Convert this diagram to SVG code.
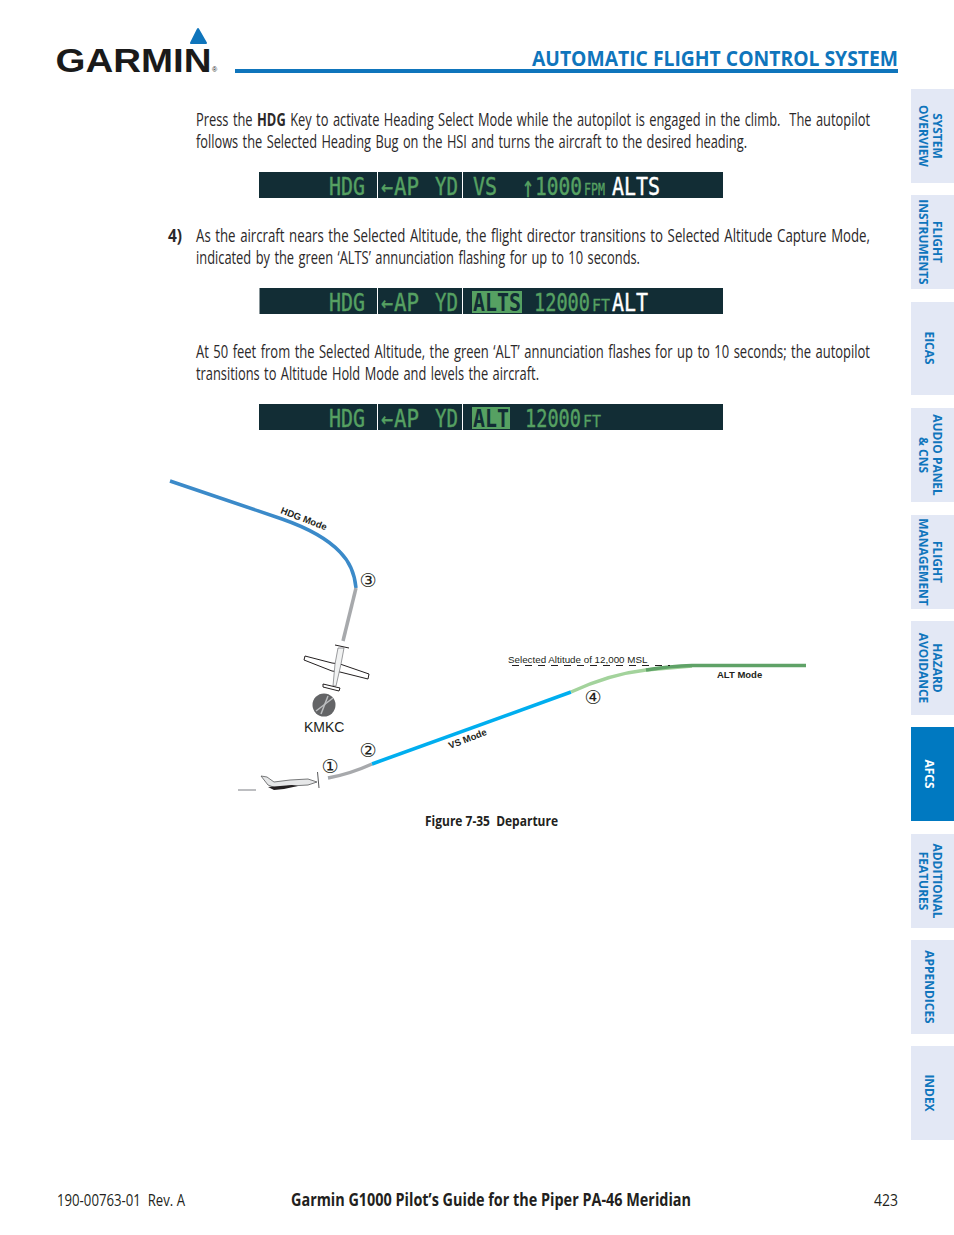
<svg xmlns="http://www.w3.org/2000/svg" width="954" height="1235" viewBox="0 0 954 1235">
<style>
text{font-family:"Open Sans","Liberation Sans",sans-serif}
.b{font-size:17.500px;fill:#2b2829;word-spacing:1.500px}
.bold{font-weight:700}
.tab{fill:#e3e8f5}
.tl{font-size:13px;font-weight:700;fill:#0f75bc;text-anchor:middle}
.bar{fill:#122d35}
.sep{stroke:#fff;stroke-width:1}
.p{font-family:"DejaVu Sans Mono","Liberation Mono",monospace;font-size:24px;fill:#56a162;stroke:#56a162;stroke-width:.4}
.ps{font-family:"DejaVu Sans Mono","Liberation Mono",monospace;font-size:16px;fill:#56a162;stroke:#56a162;stroke-width:.3}
.w{font-family:"DejaVu Sans Mono","Liberation Mono",monospace;font-size:24px;fill:#fff;stroke:#fff;stroke-width:.4}
.inv{font-family:"DejaVu Sans Mono","Liberation Mono",monospace;font-size:24px;fill:#122d35;font-weight:700}
.hl{fill:#56a162}
.a{font-family:"Liberation Sans",Arial,sans-serif;font-size:9.800px;fill:#231f20}
.ab{font-family:"Liberation Sans",Arial,sans-serif;font-size:9.500px;font-weight:700;fill:#231f20}
.n{font-family:"DejaVu Sans","Liberation Sans",sans-serif;font-size:19px;fill:#231f20;text-anchor:middle}
.c{fill:none;stroke-linecap:butt}
</style>

<g id="header">
<polygon points="198,29 191,43 206,43" fill="#0f75bc" stroke="#0f75bc" stroke-width="2" stroke-linejoin="round"/>
<text x="55.500" y="72" font-size="33" font-weight="700" fill="#1a1a1a" textLength="156" lengthAdjust="spacingAndGlyphs" style="font-family:'Liberation Sans',sans-serif">GARMIN</text>
<text x="212" y="72" font-size="7" fill="#1a1a1a" style="font-family:'Liberation Sans',sans-serif">®</text>
<rect x="235" y="69" width="663" height="4" fill="#0f75bc"/>
<text x="532" y="66" font-size="22" font-weight="700" fill="#0f75bc" textLength="366" lengthAdjust="spacingAndGlyphs">AUTOMATIC FLIGHT CONTROL SYSTEM</text>
</g>

<g id="body-text">
<text class="b" x="196" y="125.500" textLength="674" lengthAdjust="spacingAndGlyphs" xml:space="preserve">Press the <tspan class="bold">HDG</tspan> Key to activate Heading Select Mode while the autopilot is engaged in the climb.  The autopilot</text>
<text class="b" x="196" y="147.500" textLength="551" lengthAdjust="spacingAndGlyphs">follows the Selected Heading Bug on the HSI and turns the aircraft to the desired heading.</text>
<text class="b bold" x="168" y="241.500" textLength="14" lengthAdjust="spacingAndGlyphs">4)</text>
<text class="b" x="196" y="241.500" textLength="674" lengthAdjust="spacingAndGlyphs">As the aircraft nears the Selected Altitude, the flight director transitions to Selected Altitude Capture Mode,</text>
<text class="b" x="196" y="263.500" textLength="444" lengthAdjust="spacingAndGlyphs">indicated by the green ‘ALTS’ annunciation flashing for up to 10 seconds.</text>
<text class="b" x="196" y="357.500" textLength="674" lengthAdjust="spacingAndGlyphs">At 50 feet from the Selected Altitude, the green ‘ALT’ annunciation flashes for up to 10 seconds; the autopilot</text>
<text class="b" x="196" y="379.500" textLength="343" lengthAdjust="spacingAndGlyphs">transitions to Altitude Hold Mode and levels the aircraft.</text>
</g>

<g id="annunciator-1">
<rect class="bar" x="259" y="172" width="464" height="26"/>
<line class="sep" x1="377.500" y1="172" x2="377.500" y2="198"/>
<line class="sep" x1="462.500" y1="172" x2="462.500" y2="198"/>
<text class="p" x="329" y="195" textLength="36" lengthAdjust="spacingAndGlyphs">HDG</text>
<text class="p" x="381" y="195" textLength="12" lengthAdjust="spacingAndGlyphs">←</text>
<text class="p" x="394" y="195" textLength="25" lengthAdjust="spacingAndGlyphs">AP</text>
<text class="p" x="435" y="195" textLength="23" lengthAdjust="spacingAndGlyphs">YD</text>
<text class="p" x="473" y="195" textLength="24" lengthAdjust="spacingAndGlyphs">VS</text>
<text class="p" x="522" y="197" font-size="30" style="font-size:30px" textLength="12" lengthAdjust="spacingAndGlyphs">↑</text>
<text class="p" x="535" y="195" textLength="47" lengthAdjust="spacingAndGlyphs">1000</text>
<text class="ps" x="584" y="195" textLength="21" lengthAdjust="spacingAndGlyphs">FPM</text>
<text class="w" x="612" y="195" textLength="48" lengthAdjust="spacingAndGlyphs">ALTS</text>
</g>

<g id="annunciator-2">
<rect class="bar" x="259.500" y="288" width="463.500" height="26"/>
<line class="sep" x1="377.500" y1="288" x2="377.500" y2="314"/>
<line class="sep" x1="462.500" y1="288" x2="462.500" y2="314"/>
<text class="p" x="329" y="311" textLength="36" lengthAdjust="spacingAndGlyphs">HDG</text>
<text class="p" x="381" y="311" textLength="12" lengthAdjust="spacingAndGlyphs">←</text>
<text class="p" x="394" y="311" textLength="25" lengthAdjust="spacingAndGlyphs">AP</text>
<text class="p" x="435" y="311" textLength="23" lengthAdjust="spacingAndGlyphs">YD</text>
<rect class="hl" x="472" y="291" width="50" height="22"/>
<text class="inv" x="473" y="311" textLength="48" lengthAdjust="spacingAndGlyphs">ALTS</text>
<text class="p" x="534" y="311" textLength="56" lengthAdjust="spacingAndGlyphs">12000</text>
<text class="ps" x="592" y="311" textLength="18" lengthAdjust="spacingAndGlyphs">FT</text>
<text class="w" x="612" y="311" textLength="36" lengthAdjust="spacingAndGlyphs">ALT</text>
</g>

<g id="annunciator-3">
<rect class="bar" x="259" y="404" width="464" height="26"/>
<line class="sep" x1="377.500" y1="404" x2="377.500" y2="430"/>
<line class="sep" x1="462.500" y1="404" x2="462.500" y2="430"/>
<text class="p" x="329" y="427" textLength="36" lengthAdjust="spacingAndGlyphs">HDG</text>
<text class="p" x="381" y="427" textLength="12" lengthAdjust="spacingAndGlyphs">←</text>
<text class="p" x="394" y="427" textLength="25" lengthAdjust="spacingAndGlyphs">AP</text>
<text class="p" x="435" y="427" textLength="23" lengthAdjust="spacingAndGlyphs">YD</text>
<rect class="hl" x="472" y="407" width="38" height="22"/>
<text class="inv" x="473" y="427" textLength="36" lengthAdjust="spacingAndGlyphs">ALT</text>
<text class="p" x="525" y="427" textLength="56" lengthAdjust="spacingAndGlyphs">12000</text>
<text class="ps" x="583" y="427" textLength="18" lengthAdjust="spacingAndGlyphs">FT</text>
</g>

<g id="connectors">
<path class="c" d="M170,481 L282,519 Q322,533 340,552 Q354,566 356,588" stroke="#3b8ac9" stroke-width="3.500"/>
<path class="c" d="M356,588 L343,641" stroke="#a7a9ac" stroke-width="3.500"/>
<path class="c" d="M328,778 Q350,774 372,764" stroke="#a7a9ac" stroke-width="3.500"/>
<path class="c" d="M372,764 L571,692" stroke="#00aeef" stroke-width="3.500"/>
<path class="c" d="M571,692 Q610,674 646,670 L692,666" stroke="#a3d39c" stroke-width="3.500"/>
<path class="c" d="M646,670 Q670,666 692,665.500 L806,665.500" stroke="#5fa267" stroke-width="3.500"/>
<line x1="238" y1="790" x2="256" y2="790" stroke="#a7a9ac" stroke-width="1.500"/>
<line x1="512" y1="665.500" x2="670" y2="665.500" stroke="#231f20" stroke-width="1" stroke-dasharray="7 6"/>
</g>

<g id="airplane-top">
<path d="M305,656 L332,663 L340,664 L369,674 L368,679 L340,672 L332,671 L304,660 Z" fill="#fff" stroke="#231f20" stroke-width="1"/>
<path d="M338,648 L344,648 L341,664 L336,686 L333,686 L335,664 Z" fill="#f1f2f2" stroke="#808285" stroke-width=".8"/>
<line x1="335" y1="645" x2="349" y2="648" stroke="#231f20" stroke-width="1"/>
<path d="M323,684 L340,688 L339,691 L323,687 Z" fill="#fff" stroke="#231f20" stroke-width="1"/>
</g>

<g id="airport-kmkc">
<circle cx="324" cy="705" r="11.500" fill="#636466"/>
<line x1="316" y1="711" x2="333" y2="698" stroke="#bcbec0" stroke-width="1.500"/>
<line x1="321" y1="714" x2="328" y2="696" stroke="#bcbec0" stroke-width="1.500"/>
<text x="304" y="732" font-size="14" fill="#231f20" style="font-family:'Liberation Sans',sans-serif">KMKC</text>
</g>

<g id="airplane-side">
<path d="M261,776 L267,777 L274,782 L290,780 L308,779 L317,782 L308,785 L290,786 L276,788 L268,785 Z" fill="#e6e7e8" stroke="#58595b" stroke-width=".8"/>
<path d="M268,787 L292,785 L298,786 L284,789 L274,790 Z" fill="#231f20"/>
<line x1="317.500" y1="772" x2="319" y2="788" stroke="#58595b" stroke-width="1"/>
</g>

<g id="labels">
<text class="ab" transform="translate(280,513) rotate(21)">HDG Mode</text>
<text class="ab" transform="translate(450,749) rotate(-21)">VS Mode</text>
<text class="a" x="508" y="662.500">Selected Altitude of 12,000 MSL</text>
<text class="ab" x="717" y="678">ALT Mode</text>
<text class="n" x="368" y="587">③</text>
<text class="n" x="330" y="773">①</text>
<text class="n" x="368" y="757">②</text>
<text class="n" x="593" y="704">④</text>
<text x="425" y="826" font-size="15" font-weight="700" fill="#231f20" textLength="133" lengthAdjust="spacingAndGlyphs" xml:space="preserve">Figure 7-35  Departure</text>
</g>

<g id="side-tabs">
<rect class="tab" x="911" y="89" width="43" height="94"/>
<text class="tl" transform="translate(927,136) rotate(90) scale(.92,1)"><tspan x="0" y="-6">SYSTEM</tspan><tspan x="0" y="8">OVERVIEW</tspan></text>
<rect class="tab" x="911" y="195" width="43" height="94"/>
<text class="tl" transform="translate(927,242) rotate(90) scale(.92,1)"><tspan x="0" y="-6">FLIGHT</tspan><tspan x="0" y="8">INSTRUMENTS</tspan></text>
<rect class="tab" x="911" y="302" width="43" height="93"/>
<text class="tl" transform="translate(925,348) rotate(90) scale(.92,1)">EICAS</text>
<rect class="tab" x="911" y="408" width="43" height="94"/>
<text class="tl" transform="translate(927,455) rotate(90) scale(.92,1)"><tspan x="0" y="-6">AUDIO PANEL</tspan><tspan x="0" y="8">&amp; CNS</tspan></text>
<rect class="tab" x="911" y="515" width="43" height="94"/>
<text class="tl" transform="translate(927,562) rotate(90) scale(.92,1)"><tspan x="0" y="-6">FLIGHT</tspan><tspan x="0" y="8">MANAGEMENT</tspan></text>
<rect class="tab" x="911" y="621" width="43" height="94"/>
<text class="tl" transform="translate(927,668) rotate(90) scale(.92,1)"><tspan x="0" y="-6">HAZARD</tspan><tspan x="0" y="8">AVOIDANCE</tspan></text>
<rect x="911" y="727" width="43" height="94" fill="#0079c1"/>
<text class="tl" transform="translate(925,774) rotate(90) scale(.92,1)" style="fill:#fff">AFCS</text>
<rect class="tab" x="911" y="834" width="43" height="94"/>
<text class="tl" transform="translate(927,881) rotate(90) scale(.92,1)"><tspan x="0" y="-6">ADDITIONAL</tspan><tspan x="0" y="8">FEATURES</tspan></text>
<rect class="tab" x="911" y="940" width="43" height="94"/>
<text class="tl" transform="translate(925,987) rotate(90) scale(.92,1)">APPENDICES</text>
<rect class="tab" x="911" y="1046" width="43" height="94"/>
<text class="tl" transform="translate(925,1093) rotate(90) scale(.92,1)">INDEX</text>
</g>

<g id="footer">
<text x="57" y="1206" font-size="17" fill="#231f20" textLength="128" lengthAdjust="spacingAndGlyphs" xml:space="preserve">190-00763-01  Rev. A</text>
<text x="291" y="1206" font-size="18" font-weight="700" fill="#231f20" textLength="400" lengthAdjust="spacingAndGlyphs">Garmin G1000 Pilot’s Guide for the Piper PA-46 Meridian</text>
<text x="874" y="1206" font-size="17" fill="#231f20" textLength="24" lengthAdjust="spacingAndGlyphs">423</text>
</g>
</svg>
